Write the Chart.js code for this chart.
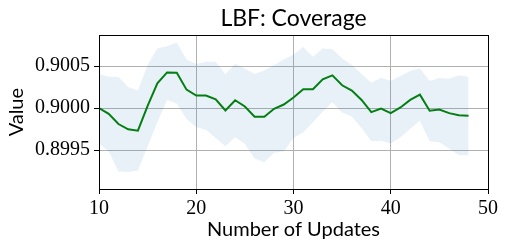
<!DOCTYPE html>
<html>
<head>
<meta charset="utf-8">
<script src="https://cdn.jsdelivr.net/npm/chart.js@4"></script>
<style>html,body{margin:0;padding:0;background:#fff;}canvas{display:block;}</style>
</head>
<body>
<canvas id="c" width="506" height="252"></canvas>
<script>
const updates = [10,11,12,13,14,15,16,17,18,19,20,21,22,23,24,25,26,27,28,29,30,31,32,33,34,35,36,37,38,39,40,41,42,43,44,45,46,47,48];
const meanValues = [0.90000,0.899933,0.899811,0.899748,0.899732,0.900028,0.900295,0.900425,0.900421,0.900220,0.900150,0.900150,0.900106,0.899972,0.900094,0.900020,0.899898,0.899898,0.899992,0.900043,0.900126,0.900224,0.900224,0.900343,0.900390,0.900272,0.900209,0.900098,0.899953,0.899996,0.899941,0.900008,0.900098,0.900161,0.899969,0.899984,0.899941,0.899917,0.899909];
const upperValues = [0.900406,0.900374,0.900370,0.900252,0.900209,0.900512,0.900709,0.900740,0.900776,0.900579,0.900524,0.900551,0.900551,0.900406,0.900524,0.900472,0.900406,0.900449,0.900512,0.900579,0.900638,0.900728,0.900610,0.900709,0.900701,0.900591,0.900512,0.900406,0.900303,0.900358,0.900327,0.900382,0.900441,0.900472,0.900323,0.900358,0.900350,0.900390,0.900374];
const lowerValues = [0.899579,0.899488,0.899248,0.899240,0.899260,0.899547,0.899831,0.900098,0.900055,0.899870,0.899776,0.899744,0.899646,0.899547,0.899654,0.899575,0.899402,0.899358,0.899469,0.899488,0.899646,0.899713,0.899831,0.899961,0.900071,0.899949,0.899902,0.899764,0.899606,0.899614,0.899579,0.899654,0.899756,0.899850,0.899606,0.899594,0.899520,0.899441,0.899441];
const yTicks = [0.8995, 0.9000, 0.9005];
const xTicks = [10, 20, 30, 40, 50];

const pts = arr => updates.map((u, i) => ({x: u, y: arr[i]}));

const frame = {
  id: 'frame',
  afterDatasetsDraw(chart) {
    const {ctx, chartArea: a} = chart;
    ctx.save();
    ctx.strokeStyle = '#000';
    ctx.lineWidth = 1;
    ctx.strokeRect(Math.round(a.left) + 0.5, Math.round(a.top) + 0.5, Math.round(a.right - a.left), Math.round(a.bottom - a.top));
    ctx.restore();
  }
};

new Chart(document.getElementById('c'), {
  type: 'line',
  data: {
    datasets: [
      {data: pts(upperValues), borderWidth: 0, pointRadius: 0, fill: '+1', backgroundColor: 'rgba(31,119,180,0.1)', borderColor: 'rgba(0,0,0,0)', tension: 0},
      {data: pts(lowerValues), borderWidth: 0, pointRadius: 0, fill: false, borderColor: 'rgba(0,0,0,0)', tension: 0},
      {data: pts(meanValues), borderWidth: 2, pointRadius: 0, fill: false, borderColor: '#008000', tension: 0}
    ]
  },
  options: {
    responsive: false,
    animation: false,
    events: [],
    layout: {padding: {left: 0, right: 18, top: 0, bottom: 0}},
    plugins: {
      legend: {display: false},
      tooltip: {enabled: false},
      title: {display: true, fullSize: false, text: 'LBF: Coverage', color: '#000', font: {family: 'Lato', size: 23, weight: 'normal', lineHeight: 1.1}, padding: {top: 6, bottom: 4}}
    },
    scales: {
      x: {
        type: 'linear', min: 10, max: 50,
        afterFit: s => { s.height = 63; },
        afterBuildTicks: s => { s.ticks = xTicks.map(v => ({value: v})); },
        grid: {color: '#b0b0b0', lineWidth: 1, drawTicks: true, tickLength: 5, tickColor: '#000'},
        border: {display: false},
        ticks: {color: '#000', padding: 3, maxRotation: 0, font: {family: 'Liberation Serif', size: 20}, callback: v => String(v)},
        title: {display: true, text: 'Number of Updates', color: '#000', font: {family: 'Lato', size: 20}, padding: {top: 0, bottom: 10}}
      },
      y: {
        type: 'linear', min: 0.899039, max: 0.900866,
        afterFit: s => { s.width = 99; },
        afterBuildTicks: s => { s.ticks = yTicks.map(v => ({value: v})); },
        grid: {color: '#b0b0b0', lineWidth: 1, drawTicks: true, tickLength: 5, tickColor: '#000'},
        border: {display: false},
        ticks: {color: '#000', padding: 4, font: {family: 'Liberation Serif', size: 20}, callback: v => v.toFixed(4)},
        title: {display: true, text: 'Value', color: '#000', font: {family: 'Lato', size: 20}, padding: {top: 5, bottom: 0}}
      }
    }
  },
  plugins: [frame]
});
</script>
</body>
</html>
